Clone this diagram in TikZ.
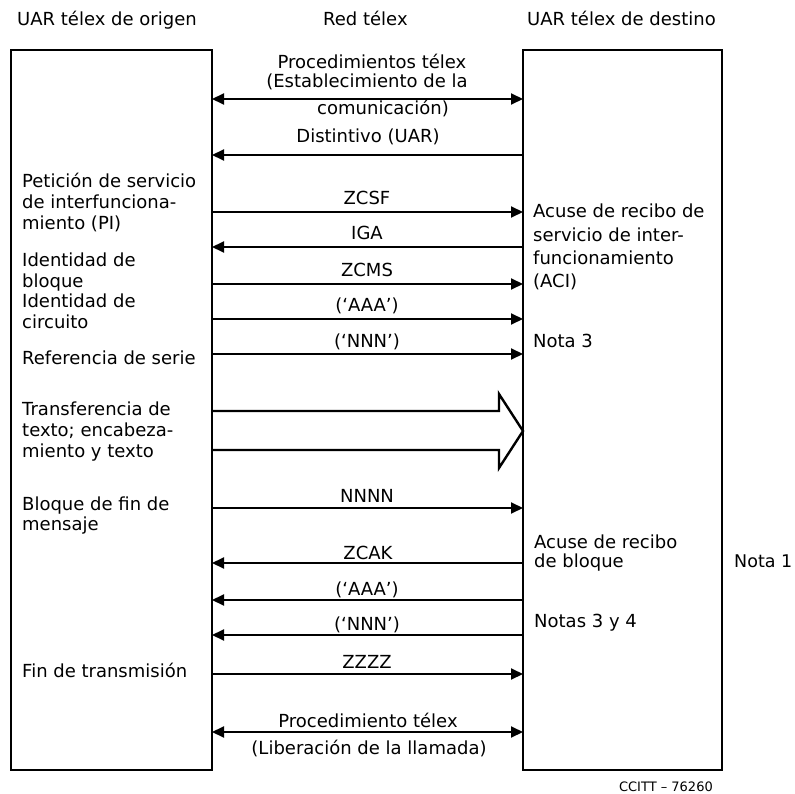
\documentclass[tikz,border=0pt]{standalone}
\usepackage{fontspec}
\setmainfont{DejaVu Sans}
\usetikzlibrary{arrows.meta}
% left-aligned block of lines, first baseline on the node's base anchor
\newcommand\lns[2]{\fontsize{18pt}{#1}\selectfont\begin{tabular}[t]{@{}l@{}}#2\end{tabular}}

\begin{document}
\begin{tikzpicture}[x=1pt,y=-1pt,
  unit/.style={draw, line width=2.8pt, inner sep=0pt, outer sep=0pt, minimum height=720pt},
  msg/.style={line width=2pt, -{Triangle[length=12pt,width=11pt]}},
  msgboth/.style={line width=2pt, {Triangle[length=12pt,width=11pt]}-{Triangle[length=12pt,width=11pt]}},
  fat/.style={line width=2.4pt, line join=miter},
  lbl/.style={font=\fontsize{18pt}{21pt}\selectfont, inner sep=0pt, anchor=base},
  txt/.style={font=\fontsize{18pt}{21pt}\selectfont, inner sep=0pt, anchor=base west},
]
\useasboundingbox (0,0) rectangle (795,794);

% column headings
\node[txt] (hA) at (17,26) {UAR télex de origen};
\node[txt] (hB) at (323,26) {Red télex};
\node[txt] (hC) at (527,26) {UAR télex de destino};

% the two terminals
\node[unit, minimum width=201pt] (orig) at (111.5,410) {};
\node[unit, minimum width=199pt] (dest) at (622.5,410) {};

% call set-up
\node[lbl] (p1) at (372,69) {Procedimientos télex};
\node[lbl] (p2) at (367,88) {(Establecimiento de la};
\node[lbl] (p3) at (383,115) {comunicación)};
\draw[msgboth] (orig.east |- 0,99) -- (dest.west |- 0,99);

\node[lbl] (dist) at (368,143) {Distintivo (UAR)};
\draw[msg] (dest.west |- 0,155) -- (orig.east |- 0,155);

% interworking request and block header
\node[lbl] (m1) at (367,205) {ZCSF};
\draw[msg] (orig.east |- 0,212) -- (dest.west |- 0,212);
\node[lbl] (m2) at (367,240) {IGA};
\draw[msg] (dest.west |- 0,247) -- (orig.east |- 0,247);
\node[lbl] (m3) at (367,277) {ZCMS};
\draw[msg] (orig.east |- 0,284) -- (dest.west |- 0,284);
\node[lbl] (m4) at (367,312) {(‘AAA’)};
\draw[msg] (orig.east |- 0,319) -- (dest.west |- 0,319);
\node[lbl] (m5) at (367,347) {(‘NNN’)};
\draw[msg] (orig.east |- 0,354) -- (dest.west |- 0,354);

% text transfer (hollow broad arrow)
\draw[fat] (orig.east |- 0,411) -- (499,411) -- (499,394) -- (dest.west |- 0,431)
  -- (499,468) -- (499,450) -- (orig.east |- 0,450);

% end of message and acknowledgement
\node[lbl] (m6) at (367,502) {NNNN};
\draw[msg] (orig.east |- 0,508) -- (dest.west |- 0,508);
\node[lbl] (m7) at (368,559) {ZCAK};
\draw[msg] (dest.west |- 0,563) -- (orig.east |- 0,563);
\node[lbl] (m8) at (367,595) {(‘AAA’)};
\draw[msg] (dest.west |- 0,600) -- (orig.east |- 0,600);
\node[lbl] (m9) at (367,630) {(‘NNN’)};
\draw[msg] (dest.west |- 0,635) -- (orig.east |- 0,635);
\node[lbl] (m10) at (367,668) {ZZZZ};
\draw[msg] (orig.east |- 0,674) -- (dest.west |- 0,674);

% call clearing
\node[lbl] (q1) at (368,727) {Procedimiento télex};
\draw[msgboth] (orig.east |- 0,732) -- (dest.west |- 0,732);
\node[lbl] (q2) at (369,754) {(Liberación de la llamada)};

% origin side
\node[txt] (b1) at (22,188) {\lns{21pt}{Petición de servicio\\de interfunciona-\\miento (PI)}};
\node[txt] (b2) at (22,267) {\lns{20.5pt}{Identidad de\\bloque}};
\node[txt] (b3) at (22,308) {\lns{20.5pt}{Identidad de\\circuito}};
\node[txt] (b4) at (22,364) {Referencia de serie};
\node[txt] (b5) at (22,415) {\lns{21pt}{Transferencia de\\texto; encabeza-\\miento y texto}};
\node[txt] (b6) at (22,510) {\lns{20pt}{Bloque de fin de\\mensaje}};
\node[txt] (b7) at (22,677) {Fin de transmisión};

% destination side
\node[txt] (r1) at (533,218) {\lns{23.3pt}{Acuse de recibo de\\servicio de inter-\\funcionamiento\\(ACI)}};
\node[txt] (r2) at (533,347) {Nota 3};
\node[txt] (r3) at (534,548) {\lns{19.5pt}{Acuse de recibo\\de bloque}};
\node[txt] (r4) at (534,627) {Notas 3 y 4};
\node[txt, font=\fontsize{17.5pt}{21pt}\selectfont] (n1) at (734,567) {Nota 1};

\node[inner sep=0pt, anchor=base east, font=\fontsize{13pt}{15pt}\selectfont] (ref) at (713,791) {CCITT – 76260};
\end{tikzpicture}
\end{document}
